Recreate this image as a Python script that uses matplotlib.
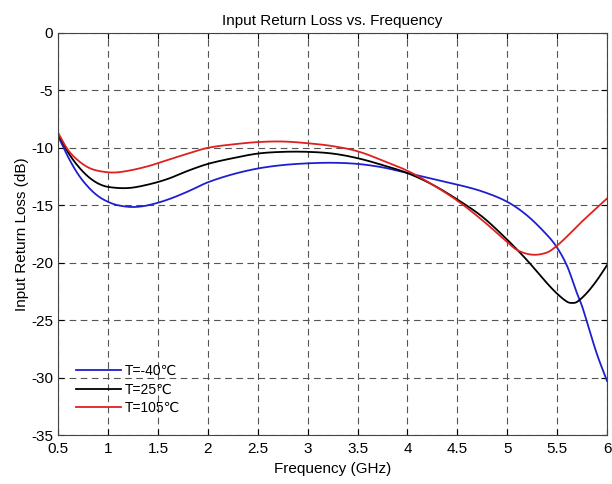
import matplotlib
matplotlib.use('Agg')
import matplotlib.pyplot as plt
import numpy as np

plt.rcParams['font.family'] = ['Liberation Sans', 'DejaVu Sans']
plt.rcParams['axes.unicode_minus'] = False

# Werte
f_blue = [0.5, 0.6, 0.7, 0.8, 0.9, 1.0, 1.1, 1.25, 1.4, 1.6, 1.8, 2.0, 2.25, 2.5, 2.75,
          3.0, 3.25, 3.5, 3.75, 4.0, 4.25, 4.5, 4.75, 5.0, 5.2, 5.4, 5.5, 5.6, 5.7, 5.75,
          5.8, 5.9, 6.0]
rl_m40 = [-9.0, -10.8, -12.3, -13.4, -14.2, -14.7, -15.0, -15.15, -15.0, -14.5, -13.8, -13.0,
          -12.3, -11.8, -11.5, -11.35, -11.3, -11.4, -11.7, -12.2, -12.7, -13.2, -13.8, -14.7,
          -15.9, -17.6, -18.7, -20.3, -22.7, -23.8, -25.2, -28.0, -30.3]

f_black = [0.5, 0.6, 0.7, 0.8, 0.9, 1.0, 1.2, 1.4, 1.6, 1.8, 2.0, 2.25, 2.5, 2.75, 3.0,
           3.25, 3.5, 3.75, 4.0, 4.25, 4.5, 4.75, 5.0, 5.2, 5.4, 5.5, 5.6, 5.65, 5.7, 5.8,
           5.9, 6.0]
rl_25 = [-8.8, -10.4, -11.6, -12.5, -13.1, -13.4, -13.5, -13.2, -12.7, -12.0, -11.4, -10.9,
         -10.5, -10.35, -10.35, -10.5, -10.9, -11.5, -12.2, -13.2, -14.5, -16.0, -18.0,
         -19.8, -21.8, -22.7, -23.4, -23.5, -23.4, -22.6, -21.5, -20.2]

f_red = [0.5, 0.6, 0.7, 0.8, 0.9, 1.05, 1.2, 1.4, 1.6, 1.8, 2.0, 2.25, 2.5, 2.75, 3.0,
         3.25, 3.5, 3.75, 4.0, 4.25, 4.5, 4.75, 5.0, 5.1, 5.25, 5.4, 5.5, 5.6, 5.75, 5.9, 6.0]
rl_105 = [-8.7, -10.2, -11.1, -11.7, -12.0, -12.15, -12.0, -11.6, -11.05, -10.5, -10.0, -9.7,
          -9.5, -9.45, -9.6, -9.85, -10.3, -11.1, -12.0, -13.2, -14.6, -16.3, -18.2, -18.9,
          -19.3, -19.1, -18.5, -17.7, -16.4, -15.2, -14.4]

labels = ['T=-40\u2103', 'T=25\u2103', 'T=105\u2103']


def smooth(x, y):
    x = np.asarray(x, float)
    y = np.asarray(y, float)
    xs = np.linspace(x[0], x[-1], 400)
    n = len(x)
    m = np.zeros(n)
    m[1:-1] = (y[2:] - y[:-2]) / (x[2:] - x[:-2])
    m[0] = (y[1] - y[0]) / (x[1] - x[0])
    m[-1] = (y[-1] - y[-2]) / (x[-1] - x[-2])
    idx = np.clip(np.searchsorted(x, xs) - 1, 0, n - 2)
    h = x[idx + 1] - x[idx]
    t = (xs - x[idx]) / h
    ys = ((2*t**3 - 3*t**2 + 1) * y[idx] + (t**3 - 2*t**2 + t) * h * m[idx]
          + (-2*t**3 + 3*t**2) * y[idx + 1] + (t**3 - t**2) * h * m[idx + 1])
    return xs, ys


fig = plt.figure(figsize=(6.12, 4.84), dpi=100)
ax = fig.add_axes([0.095, 0.101, 0.897, 0.831])

for fx, fy, c, lab in [(f_blue, rl_m40, '#1f1fd0', labels[0]),
                       (f_black, rl_25, 'k', labels[1]),
                       (f_red, rl_105, '#e02020', labels[2])]:
    xs, ys = smooth(fx, fy)
    ax.plot(xs, ys, color=c, lw=1.3, label=lab)

ax.set_xlim(0.5, 6)
ax.set_ylim(-35, 0)
ax.set_xticks(np.arange(0.5, 6.01, 0.5))
ax.set_xticklabels(['0.5', '1', '1.5', '2', '2.5', '3', '3.5', '4', '4.5', '5', '5.5', '6'])
ax.set_yticks(np.arange(-35, 0.1, 5))
ax.grid(True, linestyle=(0, (6, 4)), color='#555555', lw=0.8)
ax.tick_params(direction='in', labelsize=11, length=4, top=True, right=True)
ax.tick_params(axis='x', pad=5)
for s in ax.spines.values():
    s.set_color('#444444')
    s.set_linewidth(0.8)

ax.set_title('Input Return Loss vs. Frequency', fontsize=11, pad=6)
ax.set_xlabel('Frequency (GHz)', fontsize=11, labelpad=4)
ax.set_ylabel('Input Return Loss (dB)', fontsize=11, labelpad=2)

ax.legend(loc='lower left', bbox_to_anchor=(0.01, 0.02), frameon=False, fontsize=10,
          handlelength=3.2, handletextpad=0.3, labelspacing=0.3)

plt.savefig('out.png', dpi=100)
plt.close()
